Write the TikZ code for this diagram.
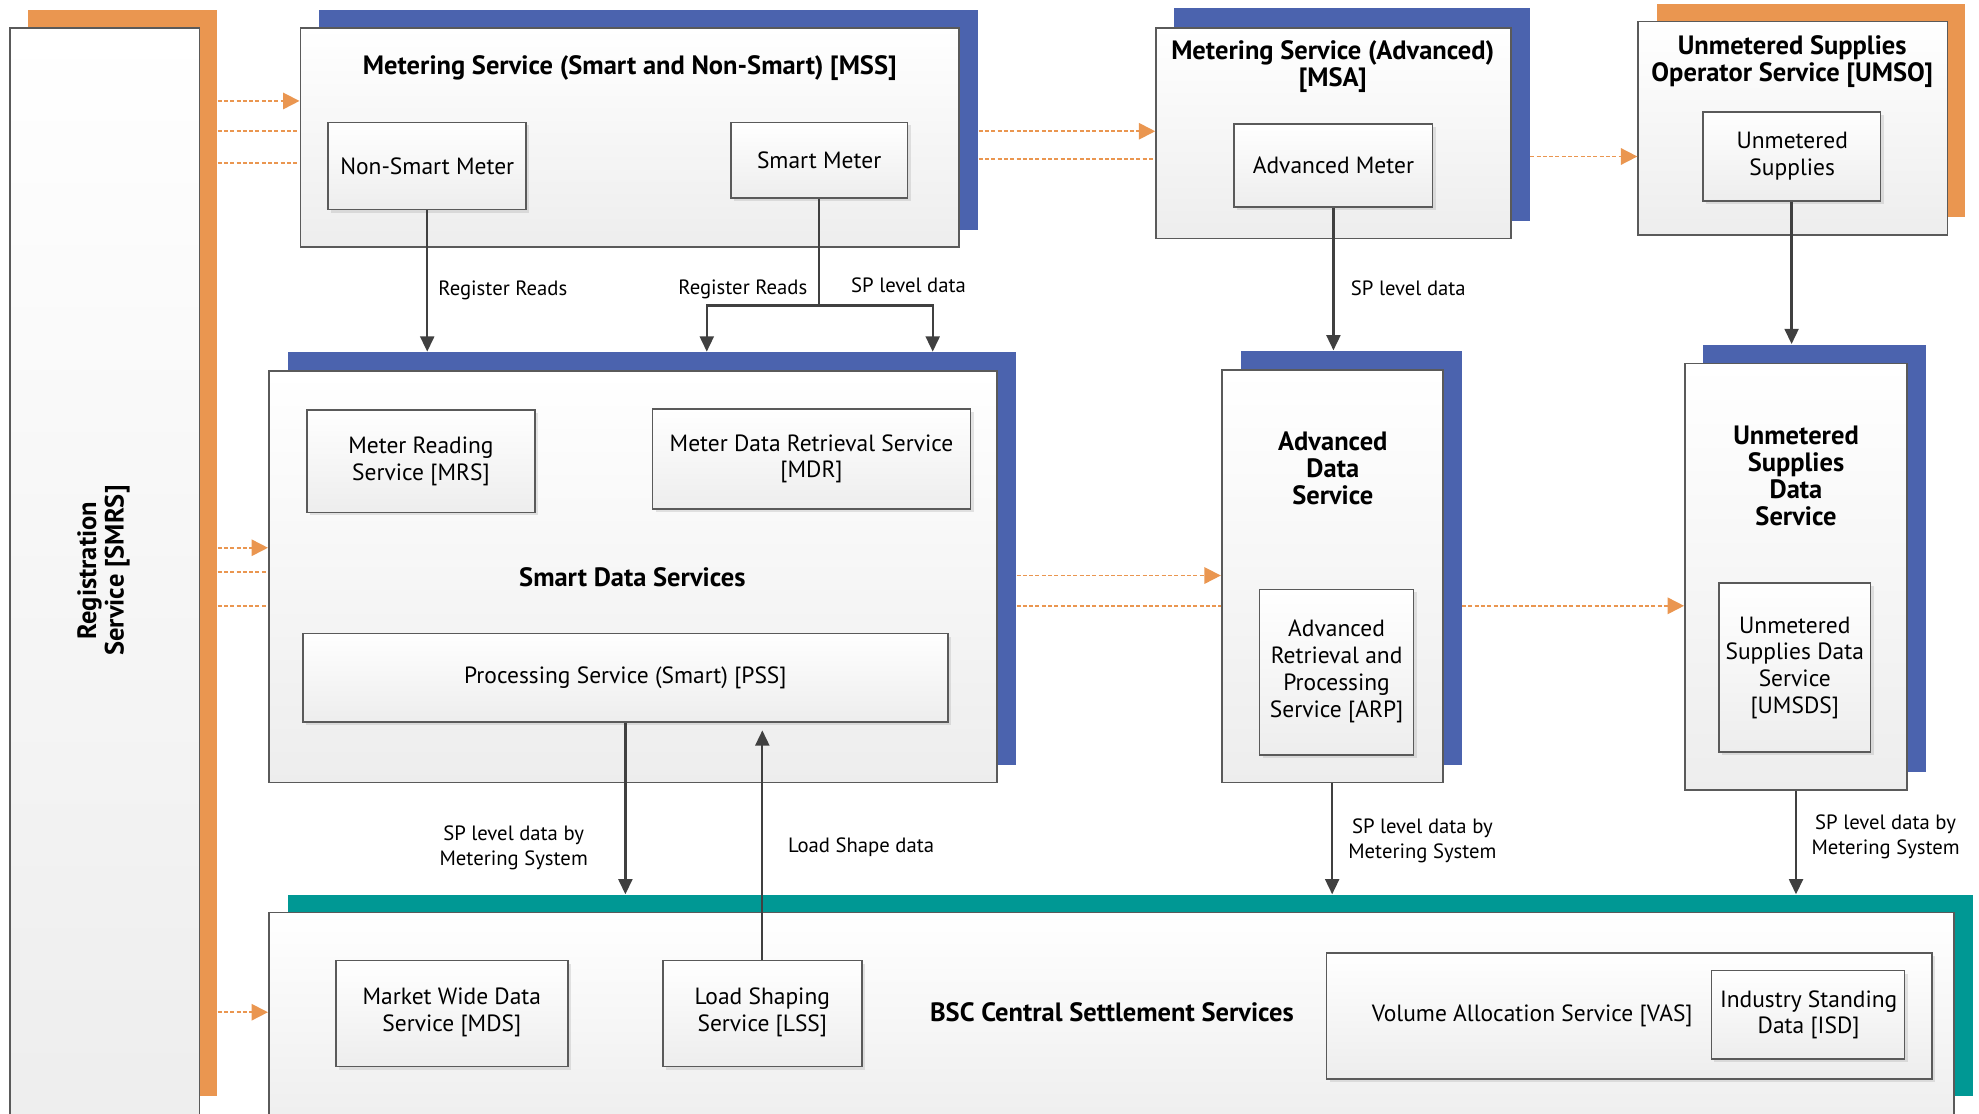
\documentclass[tikz,border=0pt]{standalone}
\usepackage{fontspec}
\setmainfont{PT Sans}
\usetikzlibrary{arrows.meta,fit,shadows}

\definecolor{regorange}{RGB}{234,150,80}
\definecolor{msblue}{RGB}{75,99,174}
\definecolor{bscteal}{RGB}{0,152,148}
\definecolor{edgegray}{RGB}{90,90,90}
\definecolor{flowgray}{RGB}{64,64,64}

\tikzset{
  backplate/.style={fill=#1, inner sep=0pt},
  bigbox/.style={draw=edgegray, line width=0.7pt, top color=white, bottom color=black!7, inner sep=0pt},
  subbox/.style={bigbox, drop shadow={opacity=0.2, shadow xshift=1.2pt, shadow yshift=-1.2pt}},
  boxtext/.style={font=\fontsize{9.3}{10.6}\selectfont, align=center, inner sep=0pt},
  title/.style={font=\bfseries\fontsize{10.5}{10.8}\selectfont, align=center, inner sep=0pt},
  flowlbl/.style={font=\fontsize{8.2}{9.8}\selectfont, align=center, inner sep=1pt},
  flowline/.style={draw=flowgray, line width=0.9pt},
  flow/.style={flowline, -{Triangle[length=6pt,width=5.5pt]}},
  feed/.style={draw=regorange, line width=0.7pt, dash pattern=on 1.6pt off 0.9pt},
  feedarr/.style={feed, -{Triangle[length=6.5pt,width=6.5pt]}}
}

\begin{document}
\begin{tikzpicture}[x=0.5pt, y=-0.5pt]
  \useasboundingbox (0,0) rectangle (1568,882);

  \node[backplate=regorange, fit={(22,8) (172,868)}] (regS) {};
  \node[bigbox, fit={(8,22) (158,900)}] (reg) {};
  \node[title, rotate=90] (regT) at (82,452) {Registration\\Service [SMRS]};

  \node[backplate=msblue, fit={(253,8) (775,182)}] (mssS) {};
  \node[bigbox, fit={(238,22) (760,196)}] (mss) {};
  \node[title] (mssT) at (499,54) {Metering Service (Smart and Non-Smart) [MSS]};
  \node[subbox, fit={(260,97) (417,166)}] (nsm) {};
  \node[boxtext] (nsmT) at (nsm) {Non-Smart Meter};
  \node[subbox, fit={(579,97) (719,157)}] (sm) {};
  \node[boxtext] (smT) at (sm) {Smart Meter};

  \node[backplate=msblue, fit={(930,6) (1212,175)}] (msaS) {};
  \node[bigbox, fit={(916,22) (1197,189)}] (msa) {};
  \node[title] (msaT) at (1056,53) {Metering Service (Advanced)\\{}[MSA]};
  \node[subbox, fit={(978,98) (1135,164)}] (am) {};
  \node[boxtext] (amT) at (am) {Advanced Meter};

  \node[backplate=regorange, fit={(1313,3) (1557,172)}] (umsoS) {};
  \node[bigbox, fit={(1298,17) (1543,186)}] (umso) {};
  \node[title] (umsoT) at (1420,49) {Unmetered Supplies\\Operator Service [UMSO]};
  \node[subbox, fit={(1349,89) (1490,159)}] (ums) {};
  \node[boxtext] (umsT) at (1420,124) {Unmetered\\Supplies};

  \node[backplate=msblue, fit={(228,279) (805,606)}] (sdsS) {};
  \node[bigbox, fit={(213,294) (790,620)}] (sds) {};
  \node[subbox, fit={(243,325) (424,406)}] (mrs) {};
  \node[boxtext] (mrsT) at (mrs) {Meter Reading\\Service [MRS]};
  \node[subbox, fit={(517,324) (769,403)}] (mdr) {};
  \node[boxtext] (mdrT) at (mdr) {Meter Data Retrieval Service\\{}[MDR]};
  \node[title] (sdsT) at (501,457) {Smart Data Services};
  \node[subbox, fit={(240,502) (751,572)}] (pss) {};
  \node[boxtext] (pssT) at (pss) {Processing Service (Smart) [PSS]};

  \node[backplate=msblue, fit={(983,278) (1158,606)}] (adsS) {};
  \node[bigbox, fit={(968,293) (1143,620)}] (ads) {};
  \node[title] (adsT) at (1056,371) {Advanced\\Data\\Service};
  \node[subbox, fit={(998,467) (1120,598)}] (arp) {};
  \node[boxtext] (arpT) at (1059,532) {Advanced\\Retrieval and\\Processing\\Service [ARP]};

  \node[backplate=msblue, fit={(1349,273) (1526,612)}] (usdsS) {};
  \node[bigbox, fit={(1335,288) (1511,626)}] (usds) {};
  \node[title] (usdsT) at (1423,377) {Unmetered\\Supplies\\Data\\Service};
  \node[subbox, fit={(1362,462) (1482,596)}] (umsds) {};
  \node[boxtext] (umsdsT) at (1422,529) {Unmetered\\Supplies Data\\Service\\{}[UMSDS]};

  \node[backplate=bscteal, fit={(228,709) (1563,868)}] (bscS) {};
  \node[bigbox, fit={(213,723) (1548,900)}] (bsc) {};
  \node[subbox, fit={(266,761) (450,845)}] (mds) {};
  \node[boxtext] (mdsT) at (358,802) {Market Wide Data\\Service [MDS]};
  \node[subbox, fit={(525,761) (683,845)}] (lss) {};
  \node[boxtext] (lssT) at (604,802) {Load Shaping\\Service [LSS]};
  \node[title] (bscT) at (881,802) {BSC Central Settlement Services};
  \node[subbox, fit={(1051,755) (1531,855)}] (vas) {};
  \node[boxtext] (vasT) at (1214,805) {Volume Allocation Service [VAS]};
  \node[subbox, fit={(1356,769) (1509,839)}] (isd) {};
  \node[boxtext] (isdT) at (1433,804) {Industry Standing\\Data [ISD]};

  \draw[feedarr] (regS.east |- 0,80) -- (mss.west |- 0,80);
  \draw[feed] (regS.east |- 0,104) -- (mss.west |- 0,104);
  \draw[feed] (regS.east |- 0,129) -- (mss.west |- 0,129);
  \draw[feedarr] (regS.east |- 0,434) -- (sds.west |- 0,434);
  \draw[feed] (regS.east |- 0,453) -- (sds.west |- 0,453);
  \draw[feed] (regS.east |- 0,480) -- (sds.west |- 0,480);
  \draw[feedarr] (regS.east |- 0,802) -- (bsc.west |- 0,802);
  \draw[feedarr] (mssS.east |- 0,104) -- (msa.west |- 0,104);
  \draw[feed] (mssS.east |- 0,126) -- (msa.west |- 0,126);
  \draw[feedarr] (msaS.east |- 0,124) -- (umso.west |- 0,124);
  \draw[feedarr] (sdsS.east |- 0,456) -- (ads.west |- 0,456);
  \draw[feed] (sdsS.east |- 0,480) -- (ads.west |- 0,480);
  \draw[feedarr] (adsS.east |- 0,480) -- (usds.west |- 0,480);

  \coordinate (smfork) at (649,242);
  \draw[flow] (nsm.south) -- (nsm.south |- sdsS.north);
  \draw[flowline] (sm.south) -- (smfork);
  \draw[flow] (smfork) -| (sdsS.north -| 560,0);
  \draw[flow] (smfork) -| (sdsS.north -| 739,0);
  \draw[flow] (am.south) -- (am.south |- adsS.north);
  \draw[flow] (ums.south) -- (ums.south |- usdsS.north);
  \draw[flow] (pss.south) -- (pss.south |- bscS.north);
  \draw[flow, shorten >=3pt] (lss.north) -- (lss.north |- pss.south);
  \draw[flow] (ads.south) -- (ads.south |- bscS.north);
  \draw[flow] (usds.south) -- (usds.south |- bscS.north);

  \node[flowlbl, anchor=west] (rr1) at (345,230) {Register Reads};
  \node[flowlbl, anchor=east] (rr2) at (642,229) {Register Reads};
  \node[flowlbl, anchor=west] (spd1) at (672,226) {SP level data};
  \node[flowlbl, anchor=west] (spd2) at (1068,228) {SP level data};
  \node[flowlbl] (spm1) at (407,672) {SP level data by\\Metering System};
  \node[flowlbl, anchor=west] (lsd) at (622,671) {Load Shape data};
  \node[flowlbl] (spm2) at (1127,666) {SP level data by\\Metering System};
  \node[flowlbl] (spm3) at (1494,663) {SP level data by\\Metering System};
\end{tikzpicture}
\end{document}
